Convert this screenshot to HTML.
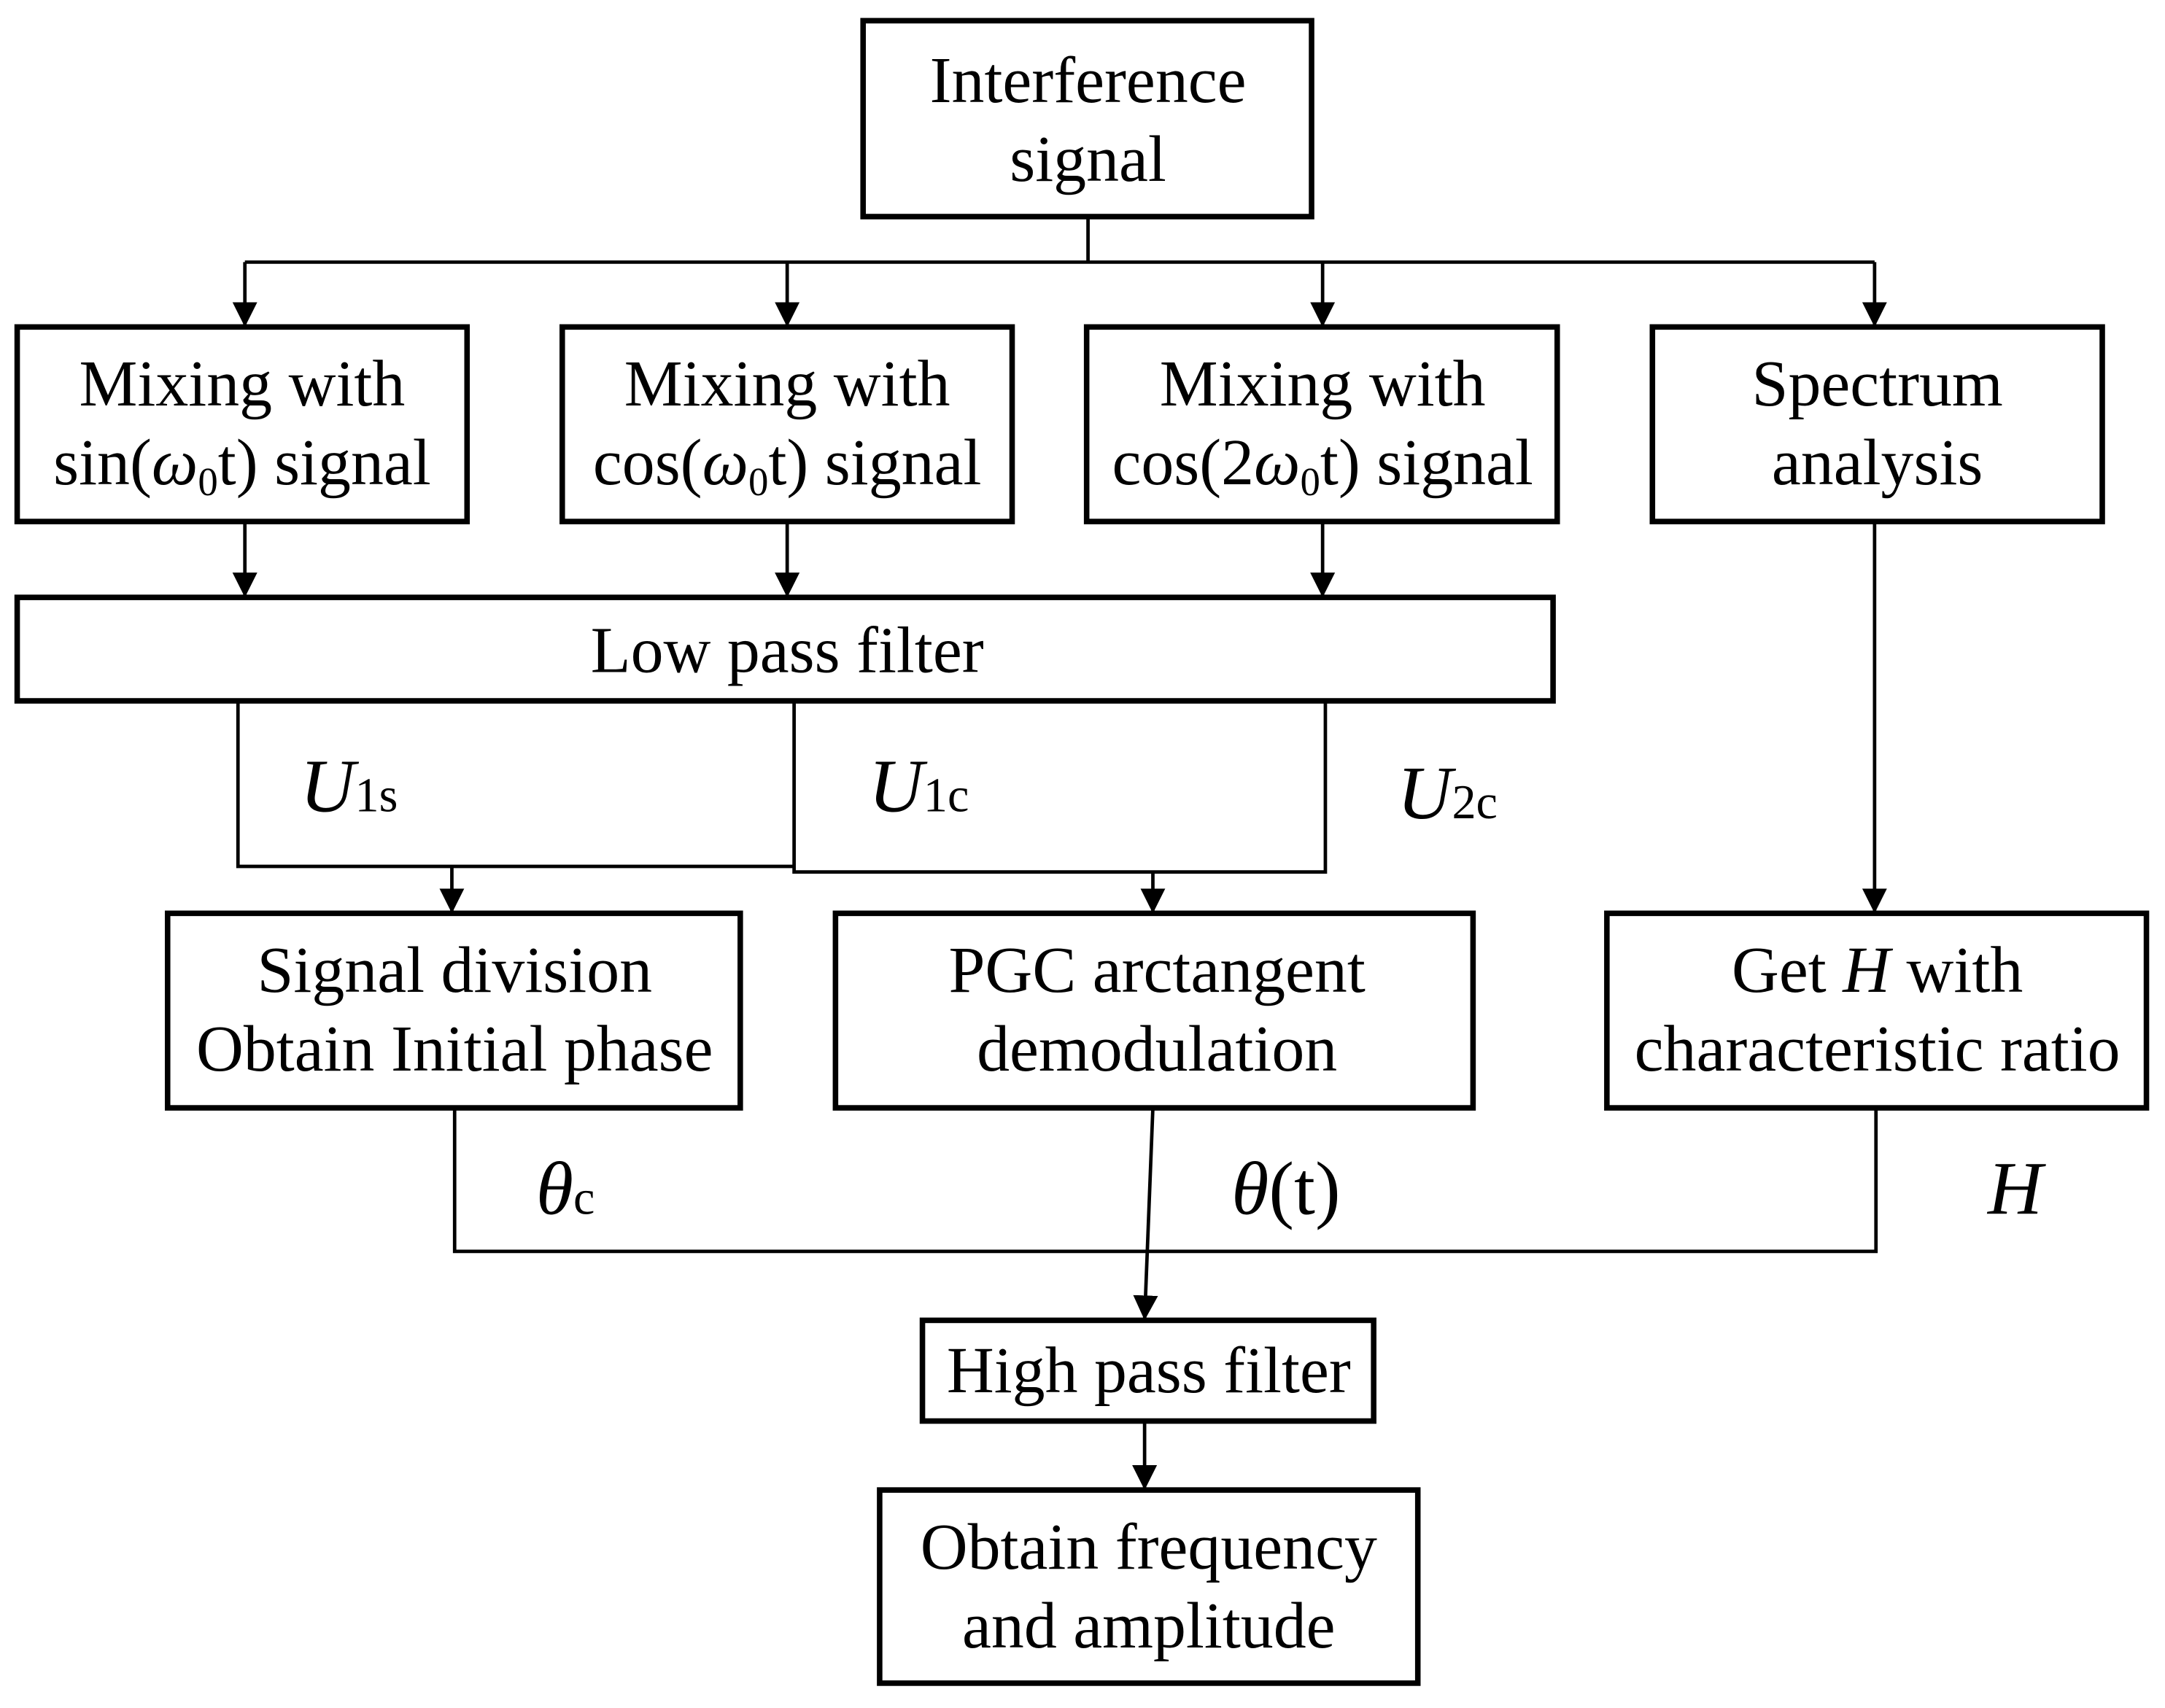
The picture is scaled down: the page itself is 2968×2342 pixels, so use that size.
<!DOCTYPE html>
<html><head><meta charset="utf-8"><style>
html,body{margin:0;padding:0;background:#fff;}
svg{display:block;}
text{font-family:"Liberation Serif",serif;fill:#000;}
</style></head><body>
<svg width="2968" height="2342" viewBox="0 0 1568 1238" xmlns="http://www.w3.org/2000/svg">
<defs>
<marker id="b" viewBox="0 0 10 10" markerWidth="18" markerHeight="21" refX="10" refY="5" orient="auto" markerUnits="userSpaceOnUse">
<path d="M0,0 L10,5 L0,10 z" fill="#000"/></marker>
</defs>
<g fill="none" stroke="#000" stroke-width="4">
<rect x="625" y="15" width="325" height="142"/>
<rect x="12" y="237" width="326" height="141"/>
<rect x="407" y="237" width="326" height="141"/>
<rect x="787" y="237" width="341" height="141"/>
<rect x="1197" y="237" width="326" height="141"/>
<rect x="12" y="433" width="1113" height="75"/>
<rect x="121" y="662" width="415" height="141"/>
<rect x="605" y="662" width="462" height="141"/>
<rect x="1164" y="662" width="391" height="141"/>
<rect x="668" y="957" width="327" height="73"/>
<rect x="637" y="1080" width="390" height="140"/>
</g>
<g fill="none" stroke="#000" stroke-width="2.5">
<path d="M788 157 V190 M177 190 H1358"/>
<path d="M177 190 V237" marker-end="url(#b)"/>
<path d="M570 190 V237" marker-end="url(#b)"/>
<path d="M958 190 V237" marker-end="url(#b)"/>
<path d="M1358 190 V237" marker-end="url(#b)"/>
<path d="M177 378 V433" marker-end="url(#b)"/>
<path d="M570 378 V433" marker-end="url(#b)"/>
<path d="M958 378 V433" marker-end="url(#b)"/>
<path d="M172 508 V628 H575 M575 508 V632 H960 V508"/>
<path d="M327 628 V662" marker-end="url(#b)"/>
<path d="M835 632 V662" marker-end="url(#b)"/>
<path d="M1358 378 V662" marker-end="url(#b)"/>
<path d="M329 803 V907 H1359 V803"/>
<path d="M835 803 L829 957" marker-end="url(#b)"/>
<path d="M829 1030 V1080" marker-end="url(#b)"/>
</g>
<g font-size="47.5" text-anchor="middle">
<text x="788" y="74">Interference</text>
<text x="788" y="131">signal</text>
<text x="175" y="294">Mixing with</text>
<text x="175" y="351">sin(<tspan font-style="italic">ω</tspan><tspan font-size="29" dy="8">0</tspan><tspan dy="-8">t) signal</tspan></text>
<text x="570" y="294">Mixing with</text>
<text x="570" y="351">cos(<tspan font-style="italic">ω</tspan><tspan font-size="29" dy="8">0</tspan><tspan dy="-8">t) signal</tspan></text>
<text x="958" y="294">Mixing with</text>
<text x="958" y="351">cos(2<tspan font-style="italic">ω</tspan><tspan font-size="29" dy="8">0</tspan><tspan dy="-8">t) signal</tspan></text>
<text x="1360" y="294">Spectrum</text>
<text x="1360" y="351">analysis</text>
<text x="570" y="487">Low pass filter</text>
<text x="329" y="719">Signal division</text>
<text x="329" y="776">Obtain Initial phase</text>
<text x="838" y="719">PGC arctangent</text>
<text x="838" y="776">demodulation</text>
<text x="1360" y="719">Get <tspan font-style="italic">H</tspan> with</text>
<text x="1360" y="776">characteristic ratio</text>
<text x="832" y="1009">High pass filter</text>
<text x="832" y="1137">Obtain frequency</text>
<text x="832" y="1194">and amplitude</text>
</g>
<g font-size="55">
<text x="217" y="588"><tspan font-style="italic">U</tspan><tspan font-size="35">1s</tspan></text>
<text x="629" y="588"><tspan font-style="italic">U</tspan><tspan font-size="35">1c</tspan></text>
<text x="1012" y="593"><tspan font-style="italic">U</tspan><tspan font-size="35">2c</tspan></text>
<text x="388" y="880"><tspan font-style="italic">θ</tspan><tspan font-size="35">c</tspan></text>
<text x="892" y="880"><tspan font-style="italic">θ</tspan>(t)</text>
<text x="1440" y="880" font-style="italic">H</text>
</g>
</svg>
</body></html>
